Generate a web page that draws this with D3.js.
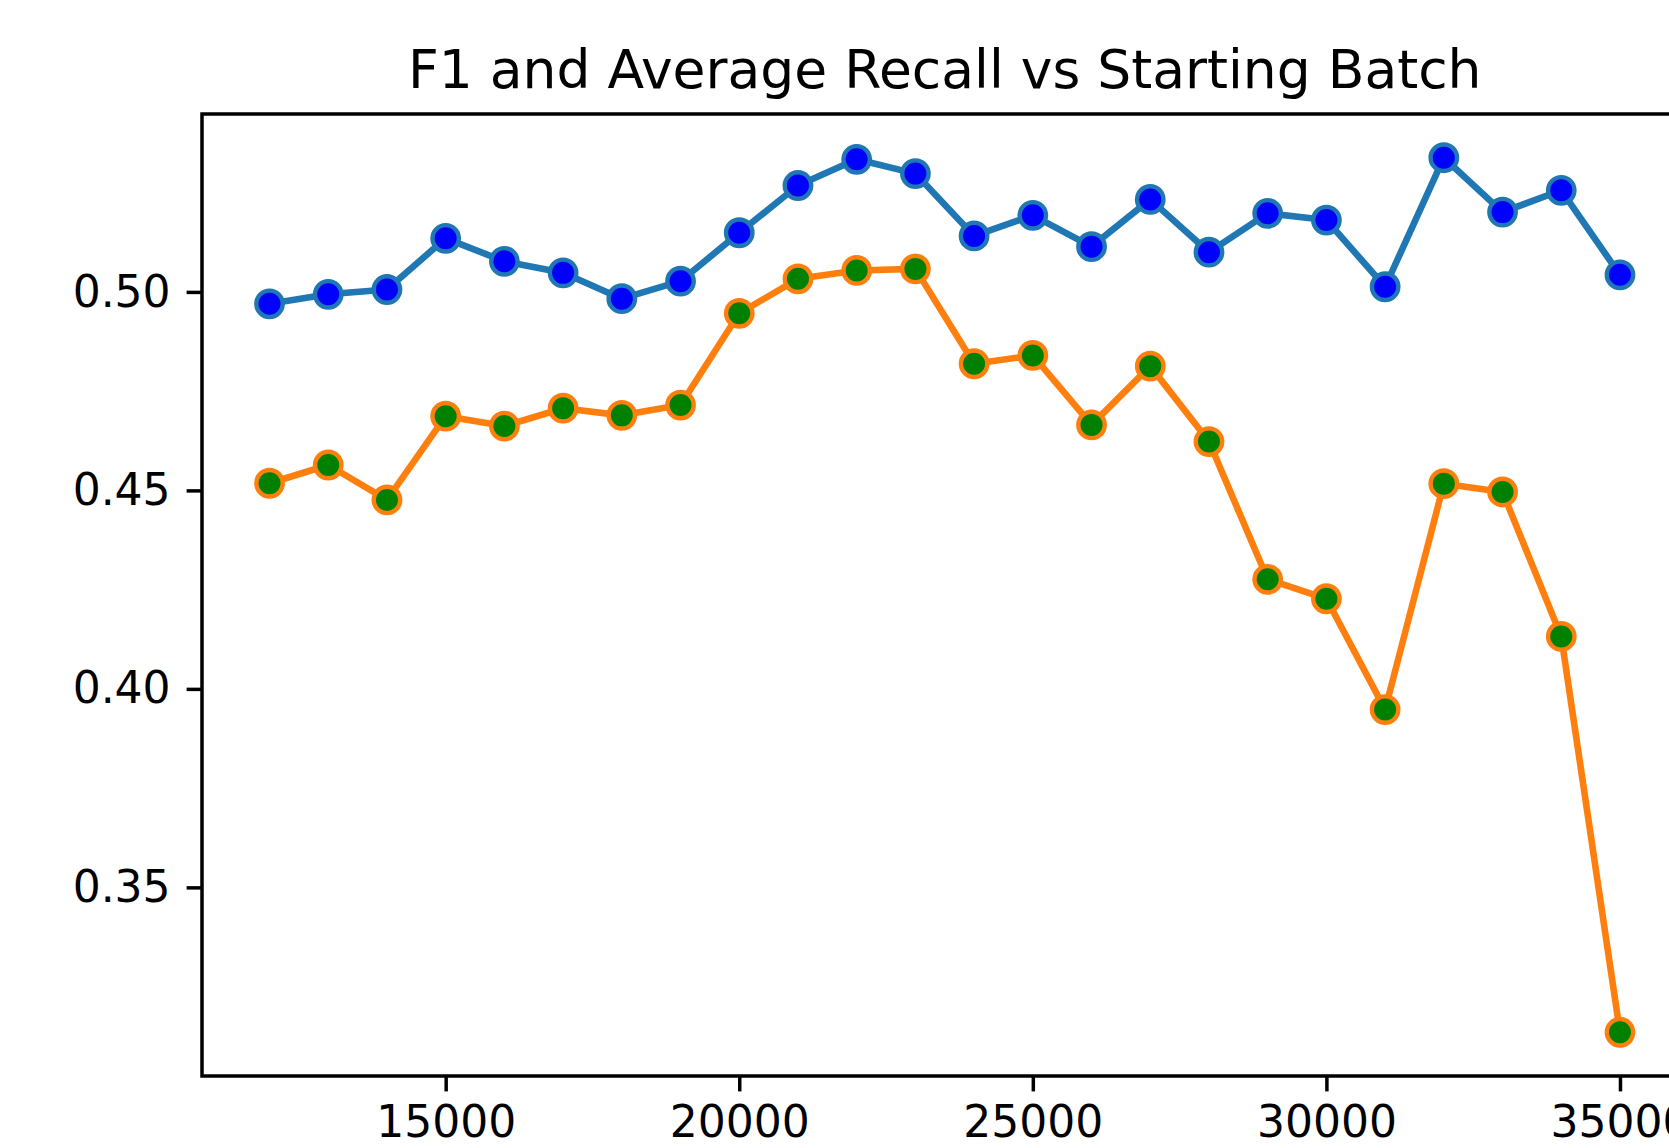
<!DOCTYPE html>
<html>
<head>
<meta charset="utf-8">
<script src="https://cdn.jsdelivr.net/npm/d3@7"></script>
<style>
  html, body { margin: 0; padding: 0; background: #fff; overflow: hidden; }
  svg { display: block; }
  text { font-family: "DejaVu Sans", sans-serif; fill: #000; }
</style>
</head>
<body>
<svg id="chart" width="1669" height="1148"></svg>
<script>
// ---- data ----
const batches = [12000, 13000, 14000, 15000, 16000, 17000, 18000, 19000, 20000, 21000, 22000, 23000,
                 24000, 25000, 26000, 27000, 28000, 29000, 30000, 31000, 32000, 33000, 34000, 35000];
const f1Values = [0.4970, 0.4994, 0.5006, 0.5135, 0.5077, 0.5048, 0.4983, 0.5027, 0.5149, 0.5268, 0.5334, 0.5298,
                  0.5141, 0.5193, 0.5114, 0.5233, 0.5100, 0.5198, 0.5181, 0.5013, 0.5338, 0.5201, 0.5256, 0.5043];
const recallValues = [0.4518, 0.4564, 0.4476, 0.4687, 0.4662, 0.4707, 0.4689, 0.4715, 0.4946, 0.5033, 0.5054, 0.5058,
                      0.4819, 0.4840, 0.4665, 0.4813, 0.4623, 0.4276, 0.4227, 0.3948, 0.4517, 0.4496, 0.4132, 0.3135];
const xTicks = [15000, 20000, 25000, 30000, 35000];
const yTicks = [0.35, 0.40, 0.45, 0.50];
const titleText = "F1 and Average Recall vs Starting Batch";

// ---- layout ----
const plot = { left: 202, right: 1687.5, top: 114, bottom: 1076 };
const svg = d3.select("#chart");

function padded(ext, m) { const r = ext[1] - ext[0]; return [ext[0] - m * r, ext[1] + m * r]; }
const xDom = padded(d3.extent(batches), 0.05);
const yDom = padded(d3.extent(f1Values.concat(recallValues)), 0.05);

const x = d3.scaleLinear().domain(xDom).range([plot.left, plot.right]);
const y = d3.scaleLinear().domain(yDom).range([plot.bottom, plot.top]);

svg.append("defs").append("clipPath").attr("id", "clip")
  .append("rect").attr("x", plot.left).attr("y", plot.top)
  .attr("width", plot.right - plot.left).attr("height", plot.bottom - plot.top);

const tickFont = 44;
const spineW = 3.5;

// title
svg.append("text").attr("x", (plot.left + plot.right) / 2).attr("y", 88)
  .attr("text-anchor", "middle").style("font-size", "53.5px").text(titleText);

// series
const series = [
  { values: f1Values, line: "#1f77b4", face: "#0000ff" },
  { values: recallValues, line: "#ff7f0e", face: "#008000" }
];
const g = svg.append("g").attr("clip-path", "url(#clip)");
const lineGen = d3.line().x(d => x(d[0])).y(d => y(d[1]));
series.forEach(s => {
  const pts = batches.map((b, i) => [b, s.values[i]]);
  g.append("path").datum(pts).attr("d", lineGen)
    .attr("fill", "none").attr("stroke", s.line).attr("stroke-width", 6.6)
    .attr("stroke-linejoin", "round").attr("stroke-linecap", "square");
  g.selectAll(null).data(pts).enter().append("circle")
    .attr("cx", d => x(d[0])).attr("cy", d => y(d[1])).attr("r", 13.2)
    .attr("fill", s.face).attr("stroke", s.line).attr("stroke-width", 4.4);
});

// axes
const xAxis = d3.axisBottom(x).tickValues(xTicks).tickFormat(d3.format("d"))
  .tickSize(15.4).tickPadding(14);
const yAxis = d3.axisLeft(y).tickValues(yTicks).tickFormat(d3.format(".2f"))
  .tickSize(15.4).tickPadding(16);

const gx = svg.append("g").attr("transform", `translate(0,${plot.bottom})`).call(xAxis);
const gy = svg.append("g").attr("transform", `translate(${plot.left},0)`).call(yAxis);
[gx, gy].forEach(a => {
  a.select(".domain").remove();
  a.selectAll(".tick line").attr("stroke", "#000").attr("stroke-width", spineW);
  a.selectAll(".tick text").style("font-size", tickFont + "px")
    .style("font-family", "DejaVu Sans, sans-serif").attr("fill", "#000");
});

// spines
svg.append("rect").attr("x", plot.left).attr("y", plot.top)
  .attr("width", plot.right - plot.left).attr("height", plot.bottom - plot.top)
  .attr("fill", "none").attr("stroke", "#000").attr("stroke-width", spineW)
  .attr("stroke-linejoin", "miter");
</script>
</body>
</html>
